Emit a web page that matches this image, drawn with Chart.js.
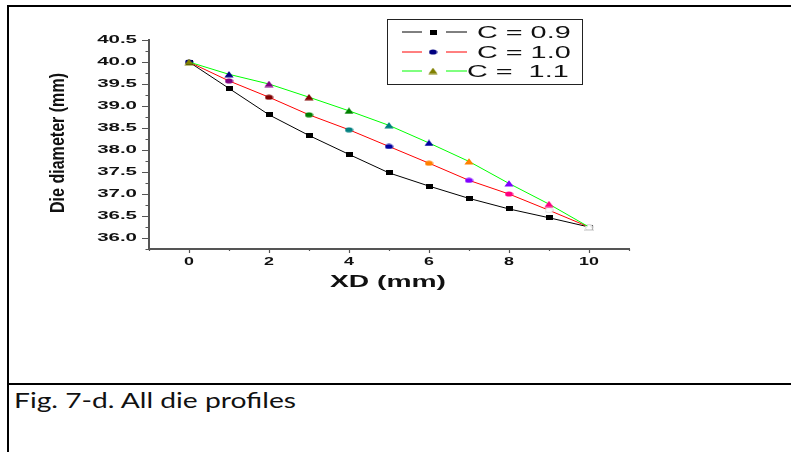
<!DOCTYPE html>
<html>
<head>
<meta charset="utf-8">
<script src="https://cdn.jsdelivr.net/npm/chart.js@4.4.1/dist/chart.umd.min.js"></script>
<style>
  html, body { margin: 0; padding: 0; background: #fff; }
  body { width: 791px; height: 452px; position: relative; overflow: hidden; }
  #c { position: absolute; left: 0; top: 0; }
  .rule { position: absolute; background: #000; }
  #caption { position: absolute; left: 14px; top: 388px; font-family: Lato, "Open Sans", sans-serif; font-size: 21px; line-height: 24px; color: #111; white-space: nowrap; transform-origin: 0 0; display: inline-block; }
</style>
</head>
<body>
<canvas id="c" width="791" height="384"></canvas>
<div class="rule" style="left:7px;top:5px;width:784px;height:2px;"></div>
<div class="rule" style="left:7px;top:5px;width:2px;height:447px;"></div>
<div class="rule" style="left:7px;top:383px;width:784px;height:2px;"></div>
<div id="caption">Fig. 7-d. All die profiles</div>
<script>
// ---------------- data ----------------
const xd = [0, 1, 2, 3, 4, 5, 6, 7, 8, 9, 10];
const c09 = [40.0, 39.4, 38.8, 38.33, 37.9, 37.48, 37.18, 36.9, 36.66, 36.46, 36.25];
const c10 = [40.0, 39.57, 39.2, 38.8, 38.46, 38.08, 37.7, 37.31, 37.0, 36.63, 36.25];
const c11 = [40.0, 39.72, 39.5, 39.2, 38.89, 38.56, 38.16, 37.74, 37.24, 36.77, 36.25];
const seriesLabels = ['C = 0.9', 'C = 1.0', 'C =  1.1'];
const xTickLabels = ['0', '2', '4', '6', '8', '10'];
const yTickLabels = ['36.0', '36.5', '37.0', '37.5', '38.0', '38.5', '39.0', '39.5', '40.0', '40.5'];
const xTitle = 'XD (mm)';
const yTitle = 'Die diameter (mm)';

// ---------------- styles ----------------
const O = { black:'#000000', dy:'#808000', navy:'#000080', purple:'#800080', wine:'#800000',
  olive:'#008000', dcyan:'#008080', royal:'#0000A0', orange:'#FF8000', violet:'#8000FF',
  pink:'#FF0080', white:'#FFFFFF' };
const sqColors = Array(11).fill(O.black);
const ciColors = [O.navy, O.purple, O.wine, O.olive, O.dcyan, O.royal, O.orange, O.violet, O.pink, O.white, O.white];
const trColors = [O.dy, O.navy, O.purple, O.wine, O.olive, O.dcyan, O.royal, O.orange, O.violet, O.pink, O.white];

function makeMarker(shape, color) {
  const cv = document.createElement('canvas');
  let w, h;
  if (shape === 'square') { w = 7; h = 5; }
  else if (shape === 'circle') { w = 9; h = 6; }
  else { w = 10; h = 7; }
  cv.width = w; cv.height = h;
  const g = cv.getContext('2d');
  g.fillStyle = color;
  g.beginPath();
  if (shape === 'square') g.rect(0, 0, w, h);
  else if (shape === 'circle') g.ellipse(w / 2, h / 2, 4, 2.6, 0, 0, Math.PI * 2);
  else { g.moveTo(w / 2, 0.3); g.lineTo(w - 0.4, h - 0.4); g.lineTo(0.4, h - 0.4); g.closePath(); }
  g.fill();
  if (color === O.white) { g.strokeStyle = 'rgba(170,170,170,0.7)'; g.lineWidth = 0.6; g.stroke(); }
  return cv;
}

const pts = (ys) => xd.map((x, i) => ({ x: x, y: ys[i] }));

// stretch chart.js tick label text horizontally (like the original wide glyphs)
function patchCtx(ctx) {
  if (ctx.__patched) return;
  const orig = ctx.fillText;
  ctx.fillText = function (text, x, y, maxWidth) {
    let k = 1;
    if (this.__mode === 'ticks') k = (this.textAlign === 'right') ? 1.95 : 1.7;
    if (k === 1) {
      return (arguments.length > 3 && maxWidth !== undefined) ? orig.call(this, text, x, y, maxWidth) : orig.call(this, text, x, y);
    }
    this.save();
    this.translate(x, y);
    this.scale(k, 1);
    orig.call(this, text, 0, 0);
    this.restore();
  };
  ctx.__patched = true;
}

const decor = {
  id: 'decor',
  beforeDraw(chart) { patchCtx(chart.ctx); chart.ctx.__mode = 'ticks'; },
  beforeDatasetsDraw(chart) { chart.ctx.__mode = null; },
  afterDraw(chart) {
    const ctx = chart.ctx;
    ctx.__mode = null;
    const xs = chart.scales.x, ys = chart.scales.y;
    const area = chart.chartArea;
    // tick marks
    ctx.save();
    ctx.strokeStyle = '#555';
    ctx.lineWidth = 1.2;
    ctx.beginPath();
    xs.ticks.forEach(t => {
      const px = Math.round(xs.getPixelForValue(t.value)) + 0.5;
      const len = (Math.abs(t.value % 2) < 1e-9) ? 4 : 2;
      ctx.moveTo(px, area.bottom); ctx.lineTo(px, area.bottom + len);
    });
    ys.ticks.forEach(t => {
      const py = Math.round(ys.getPixelForValue(t.value)) + 0.5;
      const major = Math.abs((t.value * 2) - Math.round(t.value * 2)) < 1e-9;
      const len = major ? 7 : 3.5;
      ctx.moveTo(area.left - len, py); ctx.lineTo(area.left, py);
    });
    ctx.stroke();
    ctx.restore();

    // axis titles
    ctx.save();
    ctx.fillStyle = '#111';
    ctx.font = 'bold 17px "Liberation Sans", Arial, sans-serif';
    ctx.textAlign = 'center';
    ctx.textBaseline = 'alphabetic';
    let w = ctx.measureText(xTitle).width;
    ctx.translate((area.left + area.right) / 2 - 1, 287);
    ctx.scale(116 / w, 1);
    ctx.fillText(xTitle, 0, 0);
    ctx.restore();

    ctx.save();
    ctx.fillStyle = '#111';
    ctx.font = 'bold 21px "Liberation Sans", Arial, sans-serif';
    ctx.textAlign = 'center';
    ctx.textBaseline = 'alphabetic';
    w = ctx.measureText(yTitle).width;
    ctx.translate(64, 143);
    ctx.rotate(-Math.PI / 2);
    ctx.scale(140 / w, 1);
    ctx.fillText(yTitle, 0, 0);
    ctx.restore();

    // legend
    ctx.save();
    ctx.strokeStyle = '#222';
    ctx.lineWidth = 1;
    ctx.strokeRect(387.5, 19.5, 195, 65);
    const rowsY = [32, 52, 71];
    const textX = [477, 477, 467];
    const legendMarkers = [makeMarker('square', O.black), makeMarker('circle', O.navy), makeMarker('triangle', O.dy)];
    chart.data.datasets.forEach((ds, i) => {
      const y = rowsY[i];
      ctx.strokeStyle = ds.borderColor;
      ctx.lineWidth = 1;
      ctx.beginPath();
      ctx.moveTo(402, y); ctx.lineTo(422, y);
      ctx.moveTo(446, y); ctx.lineTo(467, y);
      ctx.stroke();
      const m = legendMarkers[i];
      ctx.drawImage(m, 433 - m.width / 2, y - m.height / 2);
      ctx.save();
      ctx.fillStyle = '#111';
      ctx.font = '16px "Liberation Sans", Arial, sans-serif';
      ctx.textAlign = 'left';
      ctx.textBaseline = 'alphabetic';
      ctx.translate(textX[i], y + 5.6);
      ctx.scale(1.8, 1);
      ctx.fillText(ds.label, 0, 0);
      ctx.restore();
    });
    ctx.restore();
  }
};

const tickFont = { family: '"Liberation Sans", Arial, sans-serif', weight: 'bold', size: 10.5 };

new Chart(document.getElementById('c'), {
  type: 'scatter',
  data: {
    datasets: [
      { label: seriesLabels[0], data: pts(c09), showLine: true, borderColor: '#000000', borderWidth: 1,
        pointStyle: sqColors.map(c => makeMarker('square', c)), pointRadius: 3, order: 2 },
      { label: seriesLabels[1], data: pts(c10), showLine: true, borderColor: '#FF0000', borderWidth: 1,
        pointStyle: ciColors.map(c => makeMarker('circle', c)), pointRadius: 3, order: 1 },
      { label: seriesLabels[2], data: pts(c11), showLine: true, borderColor: '#00FF00', borderWidth: 1,
        pointStyle: trColors.map(c => makeMarker('triangle', c)), pointRadius: 3, order: 0 }
    ]
  },
  options: {
    responsive: false,
    animation: false,
    devicePixelRatio: 1,
    layout: { padding: { left: 0, top: 40, right: 162, bottom: 0 } },
    plugins: { legend: { display: false }, tooltip: { enabled: false }, title: { display: false } },
    scales: {
      x: {
        type: 'linear', min: -1, max: 11,
        afterFit(s) { s.height = 135; },
        grid: { display: false, drawTicks: false },
        border: { display: true, width: 2, color: '#555' },
        ticks: {
          stepSize: 1, autoSkip: false, maxRotation: 0, padding: 7, color: '#111', font: tickFont,
          callback: (v) => { const i = xTickLabels.findIndex(l => Number(l) === v); return i >= 0 ? xTickLabels[i] : ''; }
        }
      },
      y: {
        type: 'linear', min: 35.75, max: 40.5,
        afterFit(s) { s.width = 149; },
        grid: { display: false, drawTicks: false },
        border: { display: true, width: 2, color: '#555' },
        ticks: {
          stepSize: 0.25, autoSkip: false, padding: 12, color: '#111', font: tickFont,
          callback: (v) => { const i = yTickLabels.findIndex(l => Math.abs(Number(l) - v) < 1e-9); return i >= 0 ? yTickLabels[i] : ''; }
        }
      }
    }
  },
  plugins: [decor]
});

// caption width match
const cap = document.getElementById('caption');
const cw = cap.getBoundingClientRect().width;
cap.style.transform = 'scaleX(' + (282 / cw) + ')';
</script>
</body>
</html>
